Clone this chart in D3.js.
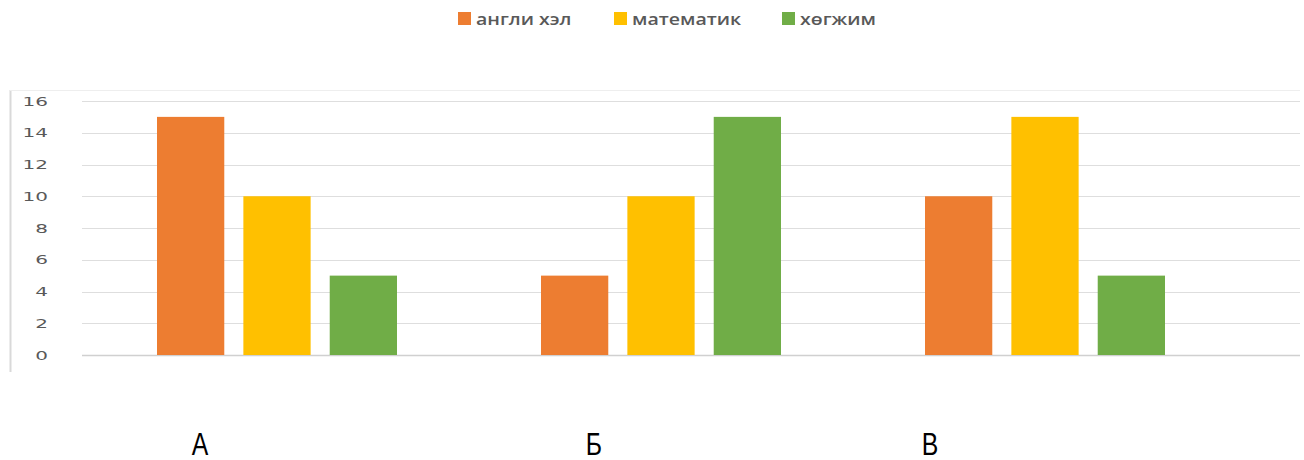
<!DOCTYPE html>
<html><head><meta charset="utf-8">
<script src="https://cdn.jsdelivr.net/npm/d3@7/dist/d3.min.js"></script>
<style>body{margin:0;background:#fff;} svg{display:block;}</style>
</head><body>
<script>
const categories = ["А", "Б", "В"];
const seriesNames = ["англи хэл", "математик", "хөгжим"];
const englishVals = [15, 5, 10];
const mathVals = [10, 10, 15];
const musicVals = [5, 15, 5];
const yTicks = [0, 2, 4, 6, 8, 10, 12, 14, 16];
const colors = ["#ED7D31", "#FFC000", "#70AD47"];

const series = [englishVals, mathVals, musicVals];
const W = 1304, H = 460;
const svg = d3.select("body").append("svg").attr("width", W).attr("height", H);

const y = d3.scaleLinear().domain([0, 16]).range([355, 101]);
const x0 = d3.scaleBand().domain(categories).range([83, 1235]).paddingInner(0).paddingOuter(0);
const x1 = d3.scaleBand().domain(seriesNames).range([74, 314]).paddingInner(0.221);

// chart border lines (left & top)
svg.append("line").attr("x1", 10.5).attr("x2", 10.5).attr("y1", 90).attr("y2", 372).attr("stroke", "#d9d9d9").attr("stroke-width", 2);
svg.append("line").attr("x1", 10).attr("x2", 1300).attr("y1", 90.5).attr("y2", 90.5).attr("stroke", "#eeeeee").attr("stroke-width", 1);

// gridlines
svg.append("g").selectAll("line").data(yTicks).join("line")
  .attr("x1", 82).attr("x2", 1300)
  .attr("y1", d => Math.round(y(d)) + 0.5).attr("y2", d => Math.round(y(d)) + 0.5)
  .attr("stroke", d => d === 0 ? "#d0d0d0" : "#dedede").attr("stroke-width", d => d === 0 ? 1.5 : 1);

// y tick labels (horizontally stretched)
svg.append("g").selectAll("text").data(yTicks).join("text")
  .attr("transform", d => `translate(48,${y(d)}) scale(1.6,1)`)
  .attr("text-anchor", "end").attr("dy", "0.36em")
  .attr("font-family", "DejaVu Sans, sans-serif").attr("font-size", 12.5)
  .attr("fill", "#595959")
  .text(d => d);

// bars
const g = svg.append("g");
categories.forEach((c, ci) => {
  series.forEach((vals, si) => {
    g.append("rect")
      .attr("x", x0(c) + x1(seriesNames[si]))
      .attr("y", y(vals[ci]))
      .attr("width", x1.bandwidth())
      .attr("height", y(0) - y(vals[ci]))
      .attr("fill", colors[si]);
  });
});

// category labels
const catX = [200, 594, 930];
svg.append("g").selectAll("text").data(categories).join("text")
  .attr("transform", (d, i) => `translate(${catX[i]},455) scale(0.8,1)`)
  .attr("text-anchor", "middle")
  .attr("font-family", "Liberation Sans, Arial, sans-serif").attr("font-size", 31)
  .attr("fill", "#000")
  .text(d => d);

// legend
const legX = [458, 614, 782];
const leg = svg.append("g");
seriesNames.forEach((n, i) => {
  leg.append("rect").attr("x", legX[i]).attr("y", 12).attr("width", 13).attr("height", 13).attr("fill", colors[i]);
  leg.append("text").attr("transform", `translate(${legX[i] + 18},19) scale(1.15,1)`).attr("dy", "0.36em")
    .attr("font-family", "Open Sans, DejaVu Sans, sans-serif").attr("font-size", 17).attr("font-weight", 600)
    .attr("fill", "#595959").text(n);
});
</script>
</body></html>
